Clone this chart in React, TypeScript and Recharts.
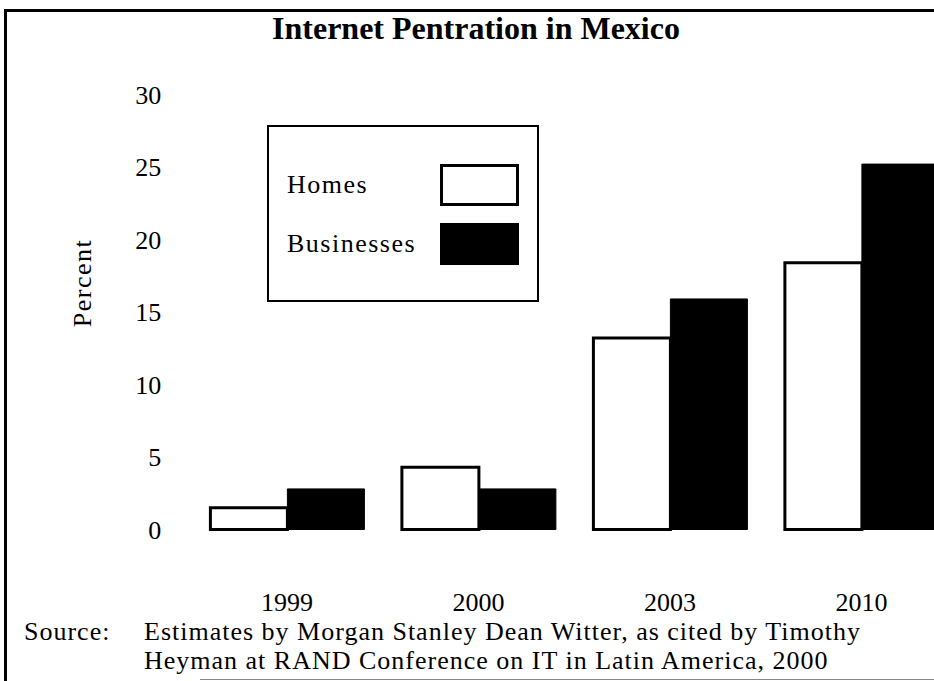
import { BarChart, Bar, XAxis, YAxis, Legend } from 'recharts';

const years = ['1999', '2000', '2003', '2010'];
const homes = [1.5, 4.3, 13.2, 18.4];
const businesses = [2.8, 2.8, 15.9, 25.2];
const yTicks = [0, 5, 10, 15, 20, 25, 30];
const seriesNames = ['Homes', 'Businesses'];

const data = years.map((year, i) => ({ year, Homes: homes[i], Businesses: businesses[i] }));

const SERIF = '"Liberation Serif", "Times New Roman", serif';

// legend box drawn like the scanned original: label left, swatch right
const renderLegend = ({ payload }: any) => {
  const items = [...(payload || [])].sort((a: any, b: any) => seriesNames.indexOf(a.value) - seriesNames.indexOf(b.value));
  return (
    <div style={{ width: 268, height: 173, border: '2px solid #000', background: '#fff', position: 'relative', fontFamily: SERIF }}>
      {items.map((entry: any, i: number) => (
        <div
          key={entry.value}
          style={{ position: 'absolute', left: 18, right: 18, top: 37 + i * 59, height: 42, display: 'flex', alignItems: 'center', justifyContent: 'space-between' }}
        >
          <span style={{ fontSize: 26, letterSpacing: 1.5, color: '#000' }}>{entry.value}</span>
          <span style={{ width: 73, height: 36, border: '3px solid #000', background: entry.color }} />
        </div>
      ))}
    </div>
  );
};

const App = () => {
  return (
    <div style={{ position: 'absolute', left: 0, top: 0, width: 934, height: 681, overflow: 'hidden', background: '#fff', fontFamily: SERIF, color: '#000' }}>
      {/* scanned frame */}
      <div style={{ position: 'absolute', left: 4, top: 9, width: 930, height: 3, background: '#000' }} />
      <div style={{ position: 'absolute', left: 4, top: 9, width: 3, height: 672, background: '#000' }} />
      <div style={{ position: 'absolute', left: 200, top: 679, width: 734, height: 1, background: '#888' }} />

      <div style={{ position: 'absolute', left: 0, top: 12, width: 952, textAlign: 'center', fontSize: 32, fontWeight: 'bold', lineHeight: '32px' }}>
        Internet Pentration in Mexico
      </div>

      <div style={{ position: 'absolute', left: 0, top: 0 }}>
        <BarChart width={960} height={681} data={data} margin={{ top: 94.5, right: 2.75, bottom: 71.5, left: 0 }} barCategoryGap="10%" barGap={0}>
          <XAxis
            dataKey="year"
            axisLine={false}
            tickLine={false}
            tickSize={0}
            tickMargin={63}
            height={80}
            tick={{ fill: '#000', fontSize: 26, fontFamily: SERIF }}
          />
          <YAxis
            domain={[0, 30]}
            ticks={yTicks}
            width={191.25}
            axisLine={false}
            tickLine={false}
            tickSize={0}
            tickMargin={30}
            tick={{ fill: '#000', fontSize: 26, fontFamily: SERIF }}
            label={{ value: 'Percent', angle: -90, position: 'center', dx: -13.6, dy: -29, fill: '#000', fontSize: 26, fontFamily: SERIF, style: { letterSpacing: 1.5 } }}
          />
          <Legend
            layout="vertical"
            align="center"
            verticalAlign="middle"
            content={renderLegend}
            wrapperStyle={{ left: 267, top: 125, width: 'auto' }}
          />
          <Bar dataKey="Homes" fill="#fff" stroke="#000" strokeWidth={3} isAnimationActive={false} />
          <Bar dataKey="Businesses" fill="#000" stroke="#000" strokeWidth={1} isAnimationActive={false} />
        </BarChart>
      </div>

      <div style={{ position: 'absolute', left: 24, top: 617, fontSize: 26, lineHeight: '29px', letterSpacing: 1, display: 'flex' }}>
        <div style={{ width: 120 }}>Source:</div>
        <div>
          <div>Estimates by Morgan Stanley Dean Witter, as cited by Timothy</div>
          <div>Heyman at RAND Conference on IT in Latin America, 2000</div>
        </div>
      </div>
    </div>
  );
};

export default App;
